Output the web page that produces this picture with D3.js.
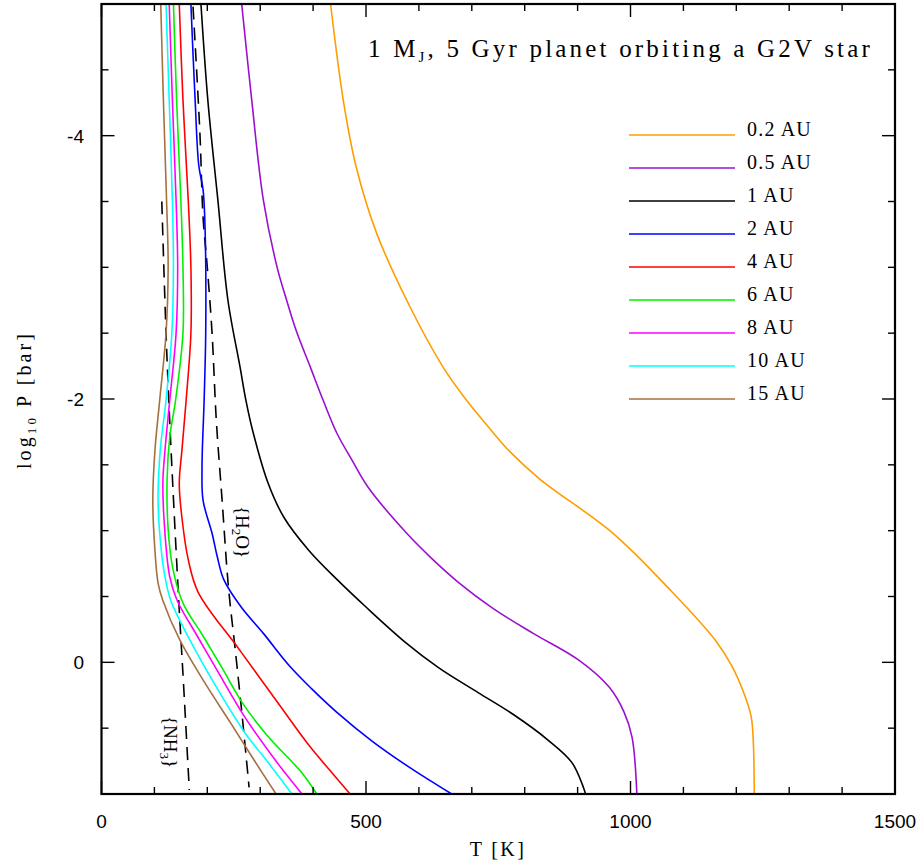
<!DOCTYPE html>
<html><head><meta charset="utf-8">
<script src="https://cdn.jsdelivr.net/npm/d3@7"></script>
<style>body{margin:0;background:#fff}</style>
</head><body><svg id="c" width="920" height="865"></svg>
<script>
// ---- data ----
const seriesLabels = ["0.2 AU","0.5 AU","1 AU","2 AU","4 AU","6 AU","8 AU","10 AU","15 AU"];
const seriesColors = ["#ff9d00","#9b10d0","#000000","#0000ff","#ff0000","#00f000","#ff00ff","#00ffff","#a5703f"];

const logP_02 = [-5,-4.27,-3.77,-3.26,-2.75,-2.24,-1.99,-1.79,-1.60,-1.39,-0.98,-0.55,-0.17,0.03,0.22,0.41,0.59,1.0];
const T_02    = [433,457,481,520,577,646,690,731,772,829,967,1075,1160,1192,1213,1228,1232,1234];

const logP_05 = [-5,-4.27,-3.51,-3.0,-2.75,-2.52,-2.24,-1.99,-1.74,-1.54,-1.33,-0.98,-0.79,-0.61,-0.41,-0.22,-0.02,0.19,0.38,0.57,1.0];
const T_05    = [265,284,306,332,350,368,395,419,445,473,504,577,624,674,740,816,901,960,988,1003,1012];

const logP_1 = [-5,-4.27,-3.51,-2.75,-2.24,-1.99,-1.74,-1.36,-1.10,-0.85,-0.63,-0.42,-0.15,0.04,0.23,0.40,0.59,0.76,0.95,1.0];
const T_1    = [188,201,220,239,262,273,287,315,345,392,445,500,575,637,712,780,844,889,911,915];

const logP_2 = [-5,-4.27,-3.77,-3.59,-3.26,-2.50,-1.99,-1.48,-1.23,-0.98,-0.80,-0.63,-0.42,-0.22,0.03,0.2,0.38,0.6,0.8,1.0];
const T_2    = [169,177,184,192,196,197,194,190,192,209,219,231,264,306,356,397,445,512,583,662];

const logP_4 = [-5,-4.27,-3.51,-3.0,-2.5,-1.99,-1.61,-1.36,-1.10,-0.78,-0.53,-0.1,0.3,0.64,0.84,1.0];
const T_4    = [147,154,164,169,169,160,152,147,152,164,183,260,332,394,436,470];

const logP_6 = [-5,-4.27,-3.51,-3.0,-2.5,-1.99,-1.71,-1.39,-1.01,-0.71,-0.45,-0.2,0.05,0.3,0.55,0.84,1.0];
const T_6    = [136,142,150,154,154,140,129,124,126,135,154,192,229,265,312,379,407];

const logP_8 = [-5,-4.27,-3.51,-3.0,-2.5,-1.99,-1.61,-1.36,-0.98,-0.65,-0.47,-0.2,0.07,0.41,0.74,1.0];
const T_8    = [128,134,141,144,141,129,120,116,120,129,143,181,220,270,328,379];

const logP_10 = [-5,-4.27,-3.51,-3.0,-2.5,-1.99,-1.61,-1.23,-0.85,-0.65,-0.47,-0.17,0.16,0.54,0.74,1.0];
const T_10    = [122,128,134,136,133,122,111,107,113,120,131,167,213,272,311,360];

const logP_15 = [-5,-4.27,-3.51,-3.0,-2.5,-1.99,-1.61,-1.23,-0.85,-0.6,-0.47,-0.17,0.16,0.46,0.74,1.0];
const T_15    = [112,117,123,126,122,110,101,97,101,107,116,148,196,244,288,330];

const seriesLogP = [logP_02,logP_05,logP_1,logP_2,logP_4,logP_6,logP_8,logP_10,logP_15];
const seriesT    = [T_02,T_05,T_1,T_2,T_4,T_6,T_8,T_10,T_15];

// condensation curves (dashed)
const logP_NH3 = [-3.50,-2.50,-1.74,-0.47,0.16,0.97];
const T_NH3    = [114,122,130,146,155,166];
const logP_H2O = [-4.98,-4.02,-3.38,-3.0,-2.5,-1.84,-1.23,-0.57,-0.09,0.41,0.95];
const T_H2O    = [173,186,192,200,209,217,228,240,253,266,279];

const xTickLabels = [0,500,1000,1500];
const yTickLabels = [-4,-2,0];

// ---- layout ----
const svg = d3.select("#c");
const L=101.5, R=895, T=4, B=794;
const x = d3.scaleLinear().domain([0,1500]).range([L,R]);
const y = d3.scaleLinear().domain([-5,1]).range([T,B]);
const serif = "'Liberation Serif', 'Times New Roman', serif";
const sans = "'Liberation Sans', Arial, sans-serif";

svg.append("defs").append("clipPath").attr("id","clip")
  .append("rect").attr("x",L).attr("y",T).attr("width",R-L).attr("height",B-T);

const plot = svg.append("g").attr("clip-path","url(#clip)");
const line = d3.line().x(d=>x(d[1])).y(d=>y(d[0])).curve(d3.curveCatmullRom.alpha(0.5));

// dashed condensation curves
[[logP_NH3,T_NH3],[logP_H2O,T_H2O]].forEach(([p,t])=>{
  plot.append("path").datum(p.map((v,i)=>[v,t[i]]))
    .attr("d",line).attr("fill","none").attr("stroke","#000")
    .attr("stroke-width",1.6).attr("stroke-dasharray","13,8");
});

// series curves
for (let k=seriesT.length-1;k>=0;k--){
  plot.append("path").datum(seriesLogP[k].map((v,i)=>[v,seriesT[k][i]]))
    .attr("d",line).attr("fill","none").attr("stroke",seriesColors[k])
    .attr("stroke-width",1.6).attr("stroke-linejoin","round");
}

// frame
svg.append("rect").attr("x",L).attr("y",T).attr("width",R-L).attr("height",B-T)
  .attr("fill","none").attr("stroke","#000").attr("stroke-width",2.2);

// ticks
const tk = svg.append("g").attr("stroke","#000").attr("stroke-width",1.4);
d3.range(0,1501,100).forEach(v=>{
  const major = v%500===0; const len = major?13:7;
  tk.append("line").attr("x1",x(v)).attr("x2",x(v)).attr("y1",B).attr("y2",B-len);
  tk.append("line").attr("x1",x(v)).attr("x2",x(v)).attr("y1",T).attr("y2",T+len);
});
d3.range(-5,1.001,0.5).forEach(v=>{
  const major = (v===-4||v===-2||v===0);
  const len = major?13:7;
  tk.append("line").attr("x1",L).attr("x2",L+len).attr("y1",y(v)).attr("y2",y(v));
  tk.append("line").attr("x1",R).attr("x2",R-len).attr("y1",y(v)).attr("y2",y(v));
});

// tick labels
svg.append("g").selectAll("text").data(xTickLabels).join("text")
  .attr("x",d=>x(d)).attr("y",828).attr("text-anchor","middle")
  .attr("font-family",sans).attr("font-size",19).text(d=>d);
svg.append("g").selectAll("text").data(yTickLabels).join("text")
  .attr("x",84).attr("y",d=>y(d)+7).attr("text-anchor","end")
  .attr("font-family",sans).attr("font-size",19).text(d=>String(d));

function fitWidth(sel, target){
  const n = sel.text().length;
  const w = sel.node().getComputedTextLength();
  sel.attr("letter-spacing", ((target-w)/Math.max(1,n-1)).toFixed(2));
}

// axis titles
const xt = svg.append("text").attr("x",498).attr("y",856).attr("text-anchor","middle")
  .attr("font-family",serif).attr("font-size",20).text("T [K]");
fitWidth(xt,54);
const yt = svg.append("text").attr("transform","translate(31,400) rotate(-90)")
  .attr("text-anchor","middle").attr("font-family",serif).attr("font-size",20);
yt.append("tspan").text("log");
yt.append("tspan").attr("font-size",13).attr("dy",5).text("10");
yt.append("tspan").attr("dy",-5).text(" P [bar]");
fitWidth(yt,135);

// title
const tt = svg.append("text").attr("x",368).attr("y",57)
  .attr("font-family",serif).attr("font-size",25);
tt.append("tspan").text("1 M");
tt.append("tspan").attr("font-size",15).attr("dy",5).text("J");
tt.append("tspan").attr("dy",-5).text(", 5 Gyr planet orbiting a G2V star");
fitWidth(tt,502);

// legend
const lg = svg.append("g");
seriesLabels.forEach((s,i)=>{
  const yy = 135 + i*33;
  lg.append("line").attr("x1",629).attr("x2",735).attr("y1",yy).attr("y2",yy)
    .attr("stroke",seriesColors[i]).attr("stroke-width",1.6);
  lg.append("text").attr("x",747).attr("y",yy+1)
    .attr("font-family",serif).attr("font-size",20).attr("letter-spacing",1.2).text(s);
});

// condensation labels
function rotLabel(cx,cy,main,sub){
  const t = svg.append("text").attr("transform",`translate(${cx},${cy}) rotate(90)`)
    .attr("text-anchor","middle").attr("font-family",serif).attr("font-size",19).attr("dy","0.35em");
  t.append("tspan").text(main[0]);
  t.append("tspan").attr("font-size",13).attr("dy",4).text(sub);
  t.append("tspan").attr("dy",-4).text(main[1]);
}
rotLabel(243,532,["{H","O}"],"2");
rotLabel(171,742,["{NH","}"],"3");
</script></body></html>
